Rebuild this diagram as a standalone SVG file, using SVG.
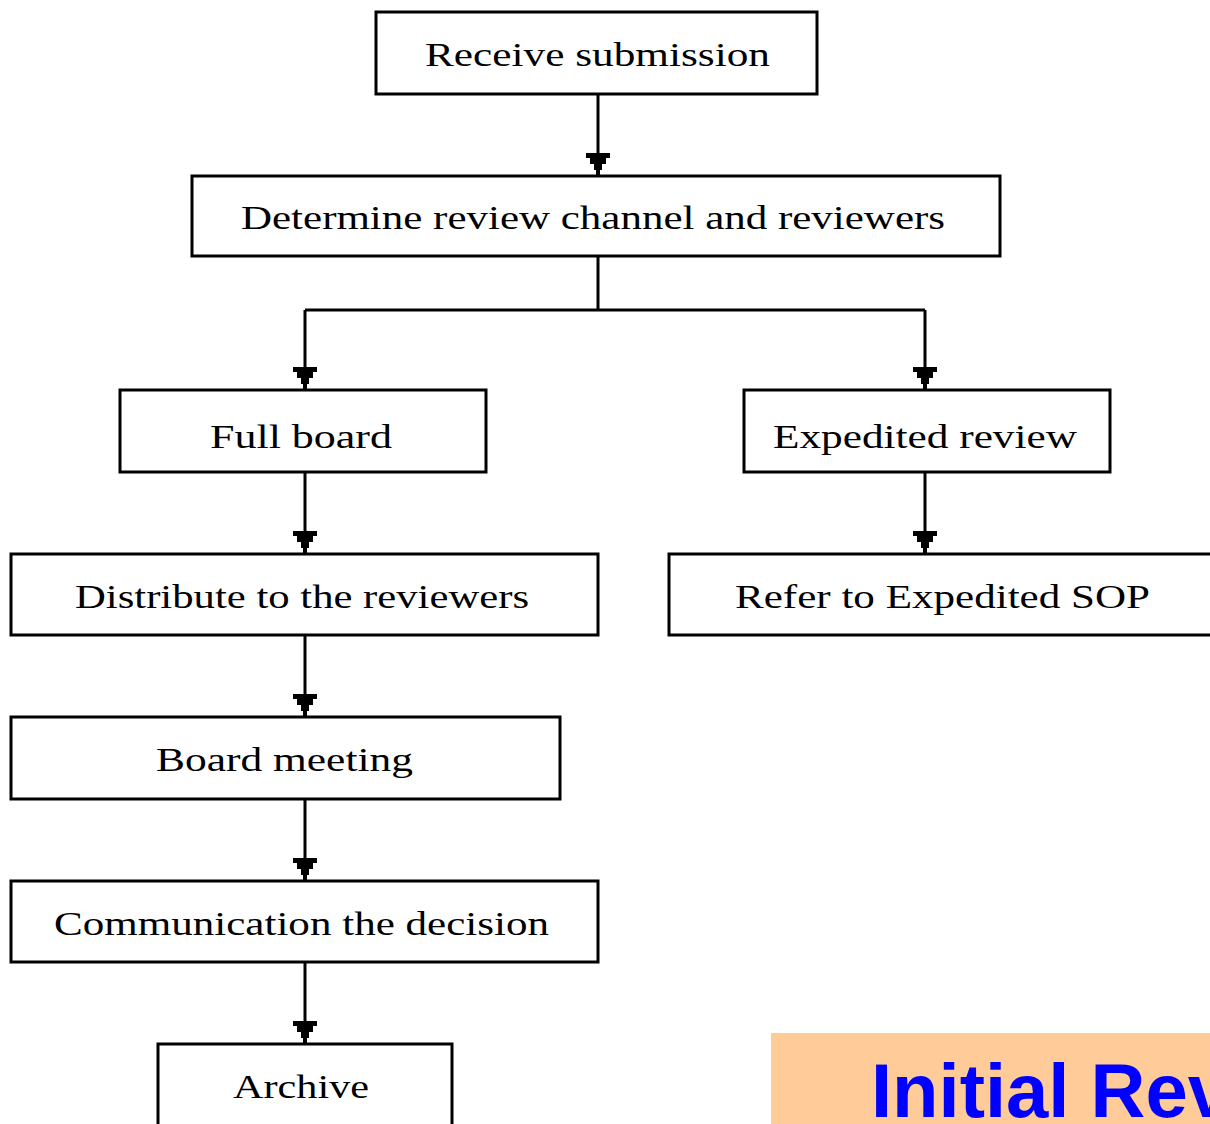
<svg xmlns="http://www.w3.org/2000/svg" width="1210" height="1124" viewBox="0 0 1210 1124">
<defs>
<style>
.box{fill:#fff;stroke:#000;stroke-width:3}
.lbl{font-family:"Liberation Serif","Times New Roman",serif;font-size:33px;fill:#000;text-anchor:start}
.ln{fill:none;stroke:#000;stroke-width:3}
.ah{fill:#000}
.title{font-family:"Liberation Sans",Arial,sans-serif;font-weight:bold;font-size:76px;fill:#0000FF}
</style>
<polygon id="arrow" class="ah" points="-12,-22 12,-22 12,-17 8,-17 8,-11 4,-11 4,-5 2,-5 2,0 -2,0 -2,-5 -4,-5 -4,-11 -8,-11 -8,-17 -12,-17"/>
</defs>
<rect width="1210" height="1124" fill="#fff"/>
<g id="connectors">
<path class="ln" d="M598,94 V160"/>
<path class="ln" d="M598,256 V310 M305,310 H925 M305,310 V375 M925,310 V375"/>
<path class="ln" d="M305,472 V540"/>
<path class="ln" d="M925,472 V540"/>
<path class="ln" d="M305,635 V702"/>
<path class="ln" d="M305,799 V866"/>
<path class="ln" d="M305,962 V1030"/>
<use href="#arrow" x="598" y="175"/>
<use href="#arrow" x="305" y="389"/>
<use href="#arrow" x="925" y="389"/>
<use href="#arrow" x="305" y="553"/>
<use href="#arrow" x="925" y="553"/>
<use href="#arrow" x="305" y="716"/>
<use href="#arrow" x="305" y="880"/>
<use href="#arrow" x="305" y="1043"/>
</g>
<g id="n-receive"><rect class="box" x="376" y="12" width="441" height="82"/><text class="lbl" x="425" y="66" textLength="345" lengthAdjust="spacingAndGlyphs">Receive submission</text></g>
<g id="n-determine"><rect class="box" x="192" y="176" width="808" height="80"/><text class="lbl" x="241" y="229" textLength="704" lengthAdjust="spacingAndGlyphs">Determine review channel and reviewers</text></g>
<g id="n-fullboard"><rect class="box" x="120" y="390" width="366" height="82"/><text class="lbl" x="210" y="448" textLength="182" lengthAdjust="spacingAndGlyphs">Full board</text></g>
<g id="n-expedited"><rect class="box" x="744" y="390" width="366" height="82"/><text class="lbl" x="773" y="448" textLength="304" lengthAdjust="spacingAndGlyphs">Expedited review</text></g>
<g id="n-distribute"><rect class="box" x="11" y="554" width="587" height="81"/><text class="lbl" x="75" y="608" textLength="454" lengthAdjust="spacingAndGlyphs">Distribute to the reviewers</text></g>
<g id="n-refer"><rect class="box" x="669" y="554" width="560" height="81"/><text class="lbl" x="735" y="608" textLength="415" lengthAdjust="spacingAndGlyphs">Refer to Expedited SOP</text></g>
<g id="n-meeting"><rect class="box" x="11" y="717" width="549" height="82"/><text class="lbl" x="156" y="771" textLength="257" lengthAdjust="spacingAndGlyphs">Board meeting</text></g>
<g id="n-communication"><rect class="box" x="11" y="881" width="587" height="81"/><text class="lbl" x="54" y="935" textLength="495" lengthAdjust="spacingAndGlyphs">Communication the decision</text></g>
<g id="n-archive"><rect class="box" x="158" y="1044" width="294" height="100"/><text class="lbl" x="233" y="1098" textLength="136" lengthAdjust="spacingAndGlyphs">Archive</text></g>
<g id="title"><rect x="771" y="1033" width="450" height="100" fill="#FFCC99"/><text class="title" x="871" y="1117">Initial Review</text></g>
</svg>
